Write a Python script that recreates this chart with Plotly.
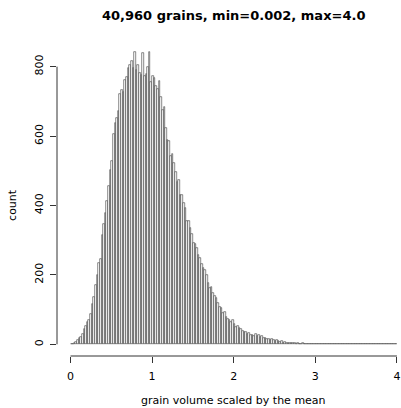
import plotly.graph_objects as go

# histogram of grain volumes (scaled by mean); bins of width 0.02 from 0 to 4
bin_start = 0.0
bin_width = 0.02
counts = [
    1, 2, 4, 6, 11, 17, 22, 31, 44, 52,
    64, 71, 88, 116, 136, 172, 201, 234, 246, 314,
    348, 377, 412, 455, 502, 528, 607, 638, 652, 673,
    721, 733, 728, 762, 771, 795, 805, 816, 797, 843,
    791, 806, 781, 776, 838, 772, 779, 798, 843, 755,
    773, 768, 744, 736, 758, 712, 676, 683, 624, 588,
    585, 542, 548, 523, 497, 469, 474, 431, 430, 408,
    394, 354, 356, 336, 318, 292, 288, 277, 256, 249,
    231, 219, 214, 199, 178, 163, 166, 147, 139, 133,
    118, 107, 104, 90, 93, 78, 74, 69, 63, 70,
    58, 49, 53, 46, 44, 38, 35, 36, 31, 33,
    28, 27, 25, 29, 24, 26, 21, 23, 18, 19,
    15, 16, 12, 14, 11, 10, 12, 9, 8, 9,
    5, 6, 4, 5, 4, 3, 4, 3, 2, 3,
    2, 2, 3, 1, 2, 1, 2, 1, 1, 2,
    1, 0, 1, 1, 0, 1, 0, 1, 1, 0,
    0, 1, 0, 1, 0, 0, 1, 0, 0, 1,
    0, 0, 1, 0, 0, 0, 1, 0, 0, 0,
    0, 0, 0, 1, 0, 0, 0, 0, 0, 0,
    0, 0, 0, 0, 0, 0, 0, 0, 0, 1,
]
x_ticks = [0, 1, 2, 3, 4]
y_ticks = [0, 200, 400, 600, 800]
title = "40,960 grains, min=0.002, max=4.0"
x_label = "grain volume scaled by the mean"
y_label = "count"

centers = [bin_start + bin_width * (i + 0.5) for i in range(len(counts))]

FONT = "DejaVu Sans"

fig = go.Figure()
fig.add_trace(go.Bar(
    x=centers, y=counts, width=bin_width,
    marker=dict(color="white", line=dict(color="#3a3a3a", width=0.6)),
    hoverinfo="x+y",
))

ymax = max(counts)
fig.update_layout(
    width=401, height=408,
    margin=dict(l=57, r=0, t=40, b=52),
    paper_bgcolor="white", plot_bgcolor="white",
    showlegend=False, bargap=0,
    font=dict(family=FONT, size=11, color="black"),
    xaxis=dict(
        range=[-0.1654, 4.050], tickvals=x_ticks, ticktext=[str(v) for v in x_ticks],
        showgrid=False, zeroline=False, showline=False,
        ticks="outside", ticklen=6, tickcolor="#333", tickwidth=1,
        tickfont=dict(family=FONT, size=11), ticklabelstandoff=4,
    ),
    yaxis=dict(
        range=[-0.04 * ymax, 1.04 * ymax], tickvals=y_ticks, ticktext=[str(v) for v in y_ticks],
        showgrid=False, zeroline=False, showline=False,
        ticks="outside", ticklen=6, tickcolor="#333", tickwidth=1,
        tickangle=-90, tickfont=dict(family=FONT, size=11), ticklabelstandoff=3,
    ),
    shapes=[
        dict(type="line", xref="x", yref="paper", x0=x_ticks[0], x1=x_ticks[-1], y0=0, y1=0,
             line=dict(color="#333", width=1)),
        dict(type="line", xref="paper", yref="y", x0=0, x1=0, y0=y_ticks[0], y1=y_ticks[-1],
             line=dict(color="#333", width=1)),
    ],
    annotations=[
        dict(text="<b>" + title + "</b>", xref="paper", yref="paper", x=0.5145, y=1.079,
             xanchor="center", yanchor="middle", showarrow=False,
             font=dict(family=FONT, size=13, color="black")),
        dict(text=x_label, xref="paper", yref="paper", x=0.5145, y=-0.142,
             xanchor="center", yanchor="middle", showarrow=False,
             font=dict(family=FONT, size=11, color="black")),
        dict(text=y_label, xref="paper", yref="paper", x=-0.128, y=0.478, textangle=-90,
             xanchor="center", yanchor="middle", showarrow=False,
             font=dict(family=FONT, size=11, color="black")),
    ],
)

fig.write_html(
    "out.html",
    config={"displayModeBar": False},
    post_script="document.body.style.margin='0';document.body.style.overflow='hidden';",
)
